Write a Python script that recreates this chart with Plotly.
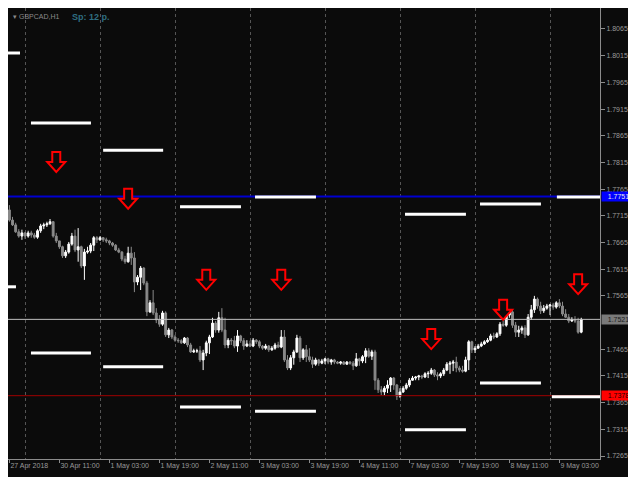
import plotly.graph_objects as go

# ---- data: GBPCAD H1, bar 0 = 27 Apr 2018 19:00 (weekend removed), prices x 1e4 ----
opens = [
17726,17707,17698,17685,17677,17683,17677,17683,17679,17675,
17687,17696,17698,17700,17704,17677,17668,17657,17640,17647,
17662,17677,17651,17657,17621,17647,17649,17660,17674,17670,
17674,17670,17668,17664,17660,17651,17647,17634,17629,17645,
17636,17591,17600,17617,17589,17535,17552,17533,17520,17512,
17533,17492,17501,17488,17482,17481,17477,17486,17473,17460,
17462,17462,17445,17458,17477,17488,17514,17501,17524,17501,
17473,17482,17481,17471,17490,17481,17471,17475,17471,17482,
17479,17471,17467,17471,17464,17467,17473,17469,17488,17445,
17430,17449,17460,17486,17449,17464,17451,17445,17437,17445,
17439,17443,17447,17441,17445,17441,17439,17441,17437,17441,
17439,17434,17447,17443,17451,17462,17452,17460,17407,17389,
17385,17392,17398,17411,17398,17377,17385,17392,17398,17407,
17411,17413,17415,17413,17419,17420,17426,17417,17415,17419,
17426,17437,17439,17441,17430,17426,17424,17445,17479,17464,
17467,17471,17475,17479,17482,17490,17488,17494,17512,17510,
17529,17535,17510,17497,17501,17505,17492,17525,17539,17559,
17546,17537,17542,17546,17548,17544,17552,17546,17531,17525,
17518,17520,17518,17497]
highs = [
17735,17713,17702,17690,17689,17685,17687,17687,17683,17690,
17700,17702,17704,17709,17705,17683,17668,17659,17651,17666,
17683,17689,17692,17659,17653,17657,17664,17677,17677,17677,
17675,17674,17670,17666,17662,17655,17649,17640,17657,17657,
17647,17604,17621,17619,17593,17557,17576,17542,17529,17537,
17536,17505,17503,17492,17486,17484,17488,17488,17477,17466,
17466,17471,17464,17481,17492,17524,17518,17535,17542,17524,
17486,17486,17490,17501,17492,17486,17482,17481,17486,17484,
17482,17473,17475,17473,17471,17477,17479,17501,17501,17454,
17454,17464,17492,17490,17467,17473,17467,17451,17449,17447,
17447,17449,17449,17447,17447,17443,17443,17443,17443,17443,
17443,17458,17449,17454,17467,17467,17464,17464,17411,17396,
17396,17407,17413,17413,17400,17392,17396,17402,17411,17415,
17415,17417,17417,17422,17424,17430,17428,17422,17422,17430,
17441,17443,17445,17451,17434,17434,17451,17482,17481,17471,
17475,17479,17482,17486,17494,17496,17497,17516,17518,17533,
17539,17539,17516,17509,17509,17510,17531,17548,17565,17562,
17554,17548,17550,17550,17552,17555,17559,17554,17540,17531,
17525,17527,17524,17524]
lows = [
17704,17696,17683,17674,17670,17672,17674,17674,17672,17672,
17683,17690,17694,17698,17674,17664,17653,17636,17636,17644,
17659,17647,17629,17617,17595,17644,17645,17649,17664,17668,
17666,17664,17660,17657,17649,17645,17630,17625,17627,17623,
17572,17585,17576,17585,17527,17533,17529,17514,17507,17509,
17488,17486,17484,17479,17477,17475,17475,17469,17458,17458,
17458,17441,17426,17452,17456,17486,17496,17496,17497,17467,
17467,17473,17467,17460,17477,17464,17469,17469,17469,17475,
17467,17464,17464,17460,17462,17464,17467,17467,17441,17426,
17426,17436,17458,17441,17445,17441,17441,17430,17434,17434,
17437,17437,17437,17436,17437,17437,17436,17436,17436,17436,
17426,17432,17434,17439,17439,17449,17445,17389,17383,17379,
17379,17383,17385,17389,17370,17374,17383,17389,17394,17406,
17407,17407,17409,17411,17411,17417,17413,17407,17411,17415,
17424,17419,17424,17422,17422,17421,17422,17426,17458,17458,
17466,17469,17473,17477,17480,17484,17486,17490,17507,17507,
17524,17505,17488,17488,17494,17486,17490,17520,17533,17541,
17531,17533,17539,17529,17539,17541,17542,17527,17524,17514,
17516,17514,17494,17495]
closes = [
17707,17698,17685,17677,17683,17677,17683,17679,17675,17687,
17696,17698,17700,17704,17677,17668,17657,17640,17647,17662,
17677,17651,17657,17621,17647,17649,17660,17674,17670,17674,
17670,17668,17664,17660,17651,17647,17634,17629,17645,17636,
17591,17600,17617,17589,17535,17552,17533,17520,17512,17533,
17492,17501,17488,17482,17481,17477,17486,17473,17460,17462,
17462,17445,17458,17477,17488,17514,17501,17524,17501,17473,
17482,17481,17471,17490,17481,17471,17475,17471,17482,17479,
17471,17467,17471,17464,17467,17473,17469,17488,17445,17430,
17449,17460,17486,17449,17464,17451,17445,17437,17445,17439,
17443,17447,17441,17445,17441,17439,17441,17437,17441,17439,
17434,17447,17443,17451,17462,17452,17460,17407,17389,17385,
17392,17398,17411,17398,17377,17385,17392,17398,17407,17411,
17413,17415,17413,17419,17420,17426,17417,17415,17419,17426,
17437,17439,17441,17430,17426,17424,17445,17479,17464,17467,
17471,17475,17479,17482,17490,17488,17494,17512,17510,17529,
17535,17510,17497,17501,17505,17492,17525,17539,17559,17546,
17537,17542,17546,17548,17544,17552,17546,17531,17525,17518,
17520,17518,17497,17521]

# time axis labels (bar index -> label)
tick_bars = [0, 16, 32, 48, 64, 80, 96, 112, 128, 144, 160, 176]
tick_labels = ["27 Apr 2018", "30 Apr 11:00", "1 May 03:00", "1 May 19:00", "2 May 11:00",
               "3 May 03:00", "3 May 19:00", "4 May 11:00", "7 May 03:00", "7 May 19:00",
               "8 May 11:00", "9 May 03:00"]
day_starts = [5, 29, 53, 77, 101, 125, 149, 173]

# price axis labels shown (1.7515 is hidden under the bid label in the original)
price_ticks = [1.7265, 1.7315, 1.7365, 1.7415, 1.7465, 1.7565, 1.7615, 1.7665,
               1.7715, 1.7765, 1.7815, 1.7865, 1.7915, 1.7965, 1.8015, 1.8065]

# daily target levels (white segments)
hi_start = [-0.5, 6.9, 30.0, 54.6, 78.6, 126.6, 150.6, 175.2]
hi_end = [3.4, 26.1, 49.2, 74.1, 98.1, 146.1, 170.1, 190.0]
hi_level = [1.8020, 1.7889, 1.7838, 1.7732, 1.7750, 1.7718, 1.7737, 1.7750]
lo_start = [-0.5, 6.9, 30.0, 54.6, 78.6, 126.6, 150.6, 173.6]
lo_end = [2.1, 26.1, 49.2, 74.1, 98.1, 146.1, 170.1, 190.0]
lo_level = [1.7582, 1.7458, 1.7432, 1.7357, 1.7349, 1.7314, 1.7402, 1.7376]

# sell signal arrows
arrow_bars = [15, 38, 63, 87, 135, 158, 182]
arrow_prices = [1.7816, 1.7747, 1.7595, 1.7595, 1.7484, 1.7539, 1.7587]

blue_level = 1.7751
bid_level = 1.7521
red_level = 1.7378

BG = "#0b0b0b"
AX = "#8c8c8c"

sc = 1e4
x = list(range(len(closes)))
fig = go.Figure()

# horizontal lines as traces spanning the axis range
x_lo, x_hi = -0.45, 189.0
for lvl, col, w in [(blue_level, "#0000d0", 2), (bid_level, "#c0c0c0", 1), (red_level, "#a00000", 1)]:
    fig.add_trace(go.Scatter(x=[x_lo, x_hi], y=[lvl, lvl], mode="lines",
                             line=dict(color=col, width=w), hoverinfo="skip"))

fig.add_trace(go.Candlestick(
    x=x, open=[v / sc for v in opens], high=[v / sc for v in highs],
    low=[v / sc for v in lows], close=[v / sc for v in closes],
    increasing=dict(line=dict(color="#ffffff", width=1), fillcolor="#ffffff"),
    decreasing=dict(line=dict(color="#8a8a8a", width=1), fillcolor="#8a8a8a"),
    whiskerwidth=0, hoverinfo="skip"))

def seg_trace(starts, ends, levels):
    xs, ys = [], []
    for a, b, l in zip(starts, ends, levels):
        xs += [a, b, None]
        ys += [l, l, None]
    return go.Scatter(x=xs, y=ys, mode="lines", line=dict(color="#ffffff", width=3),
                      hoverinfo="skip")

fig.add_trace(seg_trace(hi_start, hi_end, hi_level))
fig.add_trace(seg_trace(lo_start, lo_end, lo_level))

# arrows (hollow red down arrows, pixel sized, anchored at data positions)
arrow_path = "M-4,10 L4,10 L4,0 L9,0 L0,-10 L-9,0 L-4,0 Z"
for b, p in zip(arrow_bars, arrow_prices):
    fig.add_shape(type="path", xref="x", yref="y", xsizemode="pixel", ysizemode="pixel",
                  xanchor=b, yanchor=p, path=arrow_path,
                  line=dict(color="#ff0000", width=2), fillcolor=BG)

# price labels on axis
for price, bg, fg in [(blue_level, "#0000ff", "#e8e8e8"), (bid_level, "#7a7a7a", "#1c1c1c"),
                      (red_level, "#ff0000", "#1a0000")]:
    fig.add_annotation(xref="paper", x=1, xanchor="left", xshift=1, yref="y", y=price,
                       text=f"{price:.4f}", showarrow=False, bgcolor=bg,
                       font=dict(color=fg, size=7), width=33, height=9, borderpad=0)

# header text
fig.add_annotation(xref="paper", yref="paper", x=0, y=1, xanchor="left", yanchor="top",
                   xshift=3, yshift=-3, showarrow=False,
                   text="▾ GBPCAD,H1", font=dict(color="#8a8a8a", size=7))
fig.add_annotation(xref="paper", yref="paper", x=0, y=1, xanchor="left", yanchor="top",
                   xshift=62, yshift=-2, showarrow=False,
                   text="<b>Sp: 12 p.</b>", font=dict(color="#2f6e82", size=9))

# page body has an 8px margin: figure is sized so the plot area lands at (8..600, 8..459)
fig.update_layout(
    width=628, height=469, margin=dict(l=0, r=36, t=0, b=18),
    paper_bgcolor=BG, plot_bgcolor=BG, showlegend=False, boxgap=0.15,
    font=dict(family="Liberation Sans, Arial, sans-serif", size=7, color="#9a9a9a"),
    xaxis=dict(range=[x_lo, x_hi], tickmode="array", tickvals=tick_bars, ticktext=tick_labels,
               ticks="outside", ticklen=3, tickcolor=AX, ticklabelposition="outside right",
               showgrid=False, showline=True, linecolor=AX, mirror=True, zeroline=False,
               rangeslider=dict(visible=False),
               minor=dict(tickmode="array", tickvals=day_starts, showgrid=True,
                          gridcolor="#555555", griddash="dot", gridwidth=1, ticks="")),
    yaxis=dict(side="right", range=[1.72594, 1.81043], tickmode="array", tickvals=price_ticks,
               tickformat=".4f", ticks="outside", ticklen=4, tickcolor=AX,
               showgrid=False, showline=True, linecolor=AX, mirror=True, zeroline=False),
)

fig.write_html("out.html")
